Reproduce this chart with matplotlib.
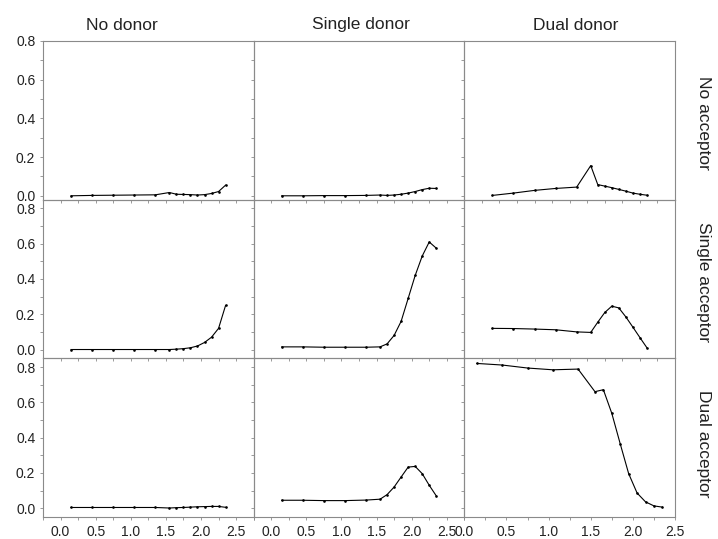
import matplotlib
matplotlib.use("Agg")
import matplotlib.pyplot as plt
from matplotlib.ticker import MultipleLocator, FormatStrFormatter

plt.rcParams['font.family'] = ['Liberation Sans', 'DejaVu Sans']

col_labels = ["No donor", "Single donor", "Dual donor"]
row_labels = ["No acceptor", "Single acceptor", "Dual acceptor"]

x = [0.15, 0.45, 0.75, 1.05, 1.35, 1.55, 1.65, 1.75, 1.85, 1.95, 2.05, 2.15, 2.25, 2.35]

# row: acceptor, column: donor
no_acc_no_don = [0.0, 0.002, 0.003, 0.004, 0.005, 0.017, 0.008, 0.007, 0.006, 0.004, 0.006, 0.012, 0.022, 0.055]
no_acc_single_don = [0.0, 0.0, 0.001, 0.001, 0.002, 0.004, 0.002, 0.004, 0.008, 0.014, 0.022, 0.032, 0.039, 0.038]
no_acc_dual_don = [0.002, 0.014, 0.028, 0.038, 0.045, 0.156, 0.058, 0.05, 0.042, 0.033, 0.024, 0.014, 0.008, 0.003]

single_acc_no_don = [0.0, 0.0, 0.0, 0.0, 0.0, 0.0, 0.002, 0.005, 0.01, 0.02, 0.04, 0.07, 0.12, 0.25]
single_acc_single_don = [0.015, 0.015, 0.013, 0.013, 0.013, 0.015, 0.032, 0.08, 0.16, 0.29, 0.42, 0.53, 0.61, 0.575]
single_acc_dual_don = [0.12, 0.119, 0.116, 0.112, 0.1, 0.097, 0.155, 0.21, 0.246, 0.236, 0.185, 0.127, 0.068, 0.01]

dual_acc_no_don = [0.004, 0.004, 0.004, 0.004, 0.004, 0.001, 0.003, 0.004, 0.006, 0.008, 0.009, 0.01, 0.01, 0.005]
dual_acc_single_don = [0.045, 0.045, 0.043, 0.043, 0.046, 0.051, 0.077, 0.12, 0.177, 0.233, 0.237, 0.196, 0.13, 0.07]
dual_acc_dual_don = [0.821, 0.812, 0.795, 0.785, 0.789, 0.661, 0.672, 0.538, 0.365, 0.196, 0.086, 0.036, 0.013, 0.006]

panels = [
    [no_acc_no_don, no_acc_single_don, no_acc_dual_don],
    [single_acc_no_don, single_acc_single_don, single_acc_dual_don],
    [dual_acc_no_don, dual_acc_single_don, dual_acc_dual_don],
]

spine_col = '#8a8a8a'
text_col = '#222222'

fig, axes = plt.subplots(3, 3, figsize=(7.18, 5.39), dpi=100)
fig.subplots_adjust(left=43/718, right=675/718, top=1-41/539, bottom=1-517/539,
                    wspace=0, hspace=0)

for r in range(3):
    for c in range(3):
        ax = axes[r, c]
        ax.plot(x, panels[r][c], color='black', lw=0.8, marker='o', ms=0.9)
        # bottom right panel has its own x range
        if r == 2 and c == 2:
            ax.set_xlim(0, 2.5)
        else:
            ax.set_xlim(-0.25, 2.75)
        if r == 0:
            ax.set_ylim(-0.02, 0.8)
        else:
            ax.set_ylim(-0.05, 0.85)
        ax.xaxis.set_major_locator(MultipleLocator(0.5))
        ax.xaxis.set_minor_locator(MultipleLocator(0.25))
        ax.yaxis.set_major_locator(MultipleLocator(0.2))
        ax.yaxis.set_minor_locator(MultipleLocator(0.1))
        ax.tick_params(which='both', direction='out', length=2.5, width=0.6,
                       color=spine_col, labelsize=10, labelcolor=text_col,
                       top=False, right=False, pad=3)
        for s in ax.spines.values():
            s.set_color(spine_col)
            s.set_linewidth(0.8)
        if c != 0:
            ax.tick_params(labelleft=False)
        else:
            ax.yaxis.set_major_formatter(FormatStrFormatter('%.1f'))
        if r != 2:
            ax.tick_params(labelbottom=False)
        else:
            ax.xaxis.set_major_formatter(FormatStrFormatter('%.1f'))
        ax.set_zorder(3 - c + (3 - r) * 3)
        ax.patch.set_alpha(0)

col_x = [122, 361, 576]
for label, cx in zip(col_labels, col_x):
    fig.text(cx / 718, 1 - 25 / 539, label, ha='center', va='center',
             fontsize=12.5, color=text_col)

row_y = [123, 282, 444]
for label, ry in zip(row_labels, row_y):
    fig.text(703 / 718, 1 - ry / 539, label, ha='center', va='center',
             rotation=270, fontsize=12.5, color=text_col)

fig.savefig("out.png", dpi=100)
